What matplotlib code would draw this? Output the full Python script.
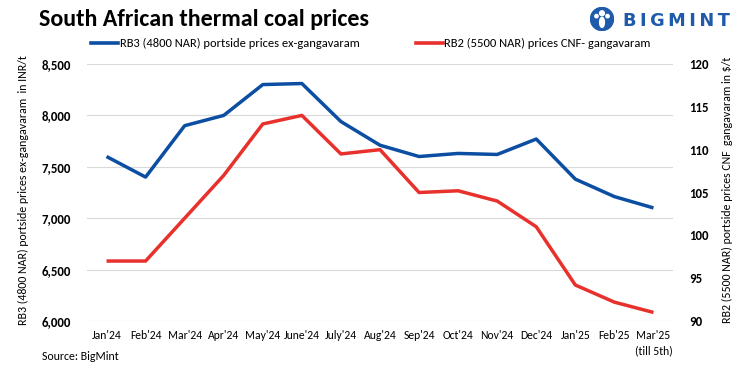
import numpy as np
import matplotlib.pyplot as plt
from matplotlib.patches import Circle, Ellipse

plt.rcParams['font.family'] = ['Carlito', 'Asap Condensed', 'Liberation Sans']

months = ["Jan'24", "Feb'24", "Mar'24", "Apr'24", "May'24", "June'24", "July'24",
          "Aug'24", "Sep'24", "Oct'24", "Nov'24", "Dec'24", "Jan'25", "Feb'25",
          "Mar'25\n(till 5th)"]
rb3_inr = [7600, 7400, 7900, 8000, 8300, 8310, 7940, 7710, 7600, 7630, 7620, 7770,
           7380, 7210, 7100]
rb2_usd = [97, 97, 102, 107, 113, 114, 109.5, 110, 105, 105.2, 104, 101, 94.2, 92.2, 91]

blue = '#0B4EA2'
red = '#E8302C'

W, H = 749, 373
fig = plt.figure(figsize=(W / 100, H / 100), dpi=100)
ax = fig.add_axes([87 / W, 1 - 321 / H, (673 - 87) / W, (321 - 64) / H])
ax2 = ax.twinx()

x = np.arange(len(months))
ax.plot(x, rb3_inr, color=blue, lw=2.5, solid_capstyle='butt')
ax2.plot(x, rb2_usd, color=red, lw=2.5, solid_capstyle='butt')

ax.set_xlim(-0.5, len(months) - 0.5)
ax.set_ylim(6000, 8500)
ax2.set_ylim(90, 120)
ax.set_yticks(np.arange(6000, 8501, 500))
ax.set_yticklabels([f'{v:,}' for v in range(6000, 8501, 500)], fontweight='bold', fontsize=9.3)
ax2.set_yticks(np.arange(90, 121, 5))
ax2.set_yticklabels([str(v) for v in range(90, 121, 5)], fontweight='bold', fontsize=9.3)
ax.set_xticks(x)
ax.set_xticklabels(months, fontsize=8.4, linespacing=1.45)
ax.grid(axis='y', color='#d9d9d9', lw=0.8)
ax.set_axisbelow(True)
for a in (ax, ax2):
    for s in a.spines.values():
        s.set_visible(False)
    a.tick_params(length=0)
ax.tick_params(axis='y', pad=11.5)
ax2.tick_params(axis='y', pad=11.5)
ax.tick_params(axis='x', pad=6.5)

fig.text(23 / W, 1 - 190 / H, 'RB3 (4800 NAR) portside prices ex-gangavaram  in INR/t',
         rotation=90, ha='center', va='center', fontsize=8.6)
fig.text(727 / W, 1 - 190 / H, 'RB2 (5500 NAR) portside prices CNF  gangavaram in $/t',
         rotation=90, ha='center', va='center', fontsize=8.6)

fig.text(39 / W, 1 - 20 / H, 'South African thermal coal prices', fontsize=17.3,
         fontweight='bold', ha='left', va='center')

# legend
fig.add_artist(plt.Line2D([91 / W, 118 / W], [1 - 43 / H] * 2, color=blue, lw=2.6))
fig.text(119.5 / W, 1 - 43 / H, 'RB3 (4800 NAR) portside prices ex-gangavaram',
         fontsize=9, va='center')
fig.add_artist(plt.Line2D([416 / W, 443 / W], [1 - 43 / H] * 2, color=red, lw=2.6))
fig.text(444.5 / W, 1 - 43 / H, 'RB2 (5500 NAR) prices CNF- gangavaram',
         fontsize=9, va='center')

# logo
logo = '#1F5BAA'
lax = fig.add_axes([590 / W, 1 - 31 / H, 24 / W, 24 / H])
lax.set_xlim(0, 1)
lax.set_ylim(0, 1)
lax.set_aspect('equal')
lax.axis('off')
lax.add_patch(Circle((0.5, 0.5), 0.48, color=logo))
lax.add_patch(Circle((0.5, 0.74), 0.1, color='white'))
lax.add_patch(Ellipse((0.5, 0.36), 0.2, 0.42, color='white'))
lax.add_patch(Circle((0.27, 0.62), 0.07, color='white'))
lax.add_patch(Circle((0.73, 0.62), 0.07, color='white'))
fig.text(623 / W, 1 - 21 / H, '\u2009'.join('BIGMINT'), fontsize=12.8, fontweight='bold',
         color=logo, ha='left', va='center', family=['DejaVu Sans'])

fig.text(42 / W, 1 - 357 / H, 'Source: BigMint', fontsize=8.6, va='center')

fig.savefig('out.png', dpi=100)
